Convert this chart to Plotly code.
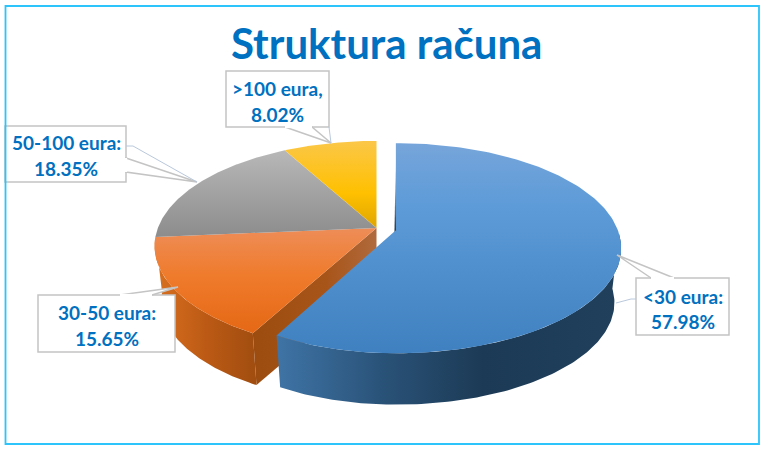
import numpy as np
import plotly.graph_objects as go

categories = ["<30 eura", "30-50 eura", "50-100 eura", ">100 eura"]
values = [57.98, 15.65, 18.35, 8.02]
separators = [":", ":", ":", ","]
title_text = "Struktura računa"
BLUE_TXT = "#0070c0"
FONT = "Lato"

# projection of the tilted disc
CX, CY, R, H, K = 376.5, 228.0, 222.0, 102.0, 0.1714
DEPTH, BOTTOM_SCALE = 55.0, 0.97
PULL = [20.0, 0, 0, 0]
LEFT_SCALE = [0.95, 0.985, 0.985, 0.985]


def proj(theta_deg, r=1.0, bottom=False, dx=0.0, dy=0.0, ls=1.0):
    t = np.radians(np.asarray(theta_deg, dtype=float))
    u, v = r * np.sin(t), r * np.cos(t)
    s = 1.0 / (1.0 + K * v)
    f = BOTTOM_SCALE if bottom else 1.0
    uu = np.where(u < 0, u * ls, u)
    return (CX + dx + R * f * uu * s,
            CY + dy + (DEPTH if bottom else 0.0) - H * f * v * s)


cum = np.concatenate([[0.0], np.cumsum(values)]) / np.sum(values) * 360.0
spans = list(zip(cum[:-1], cum[1:]))
offs = []
for (a, b), p in zip(spans, PULL):
    m = np.radians((a + b) / 2)
    offs.append((p * np.sin(m), -p * np.cos(m) * 0.45))

fig = go.Figure()


def poly(xs, ys, gtype, stops):
    xs, ys = np.asarray(xs, dtype=float), np.asarray(ys, dtype=float)
    if gtype == "vertical":
        grad = dict(type=gtype, colorscale=stops, start=float(ys.min()), stop=float(ys.max()))
    else:
        grad = dict(type=gtype, colorscale=stops, start=float(xs.min()), stop=float(xs.max()))
    fig.add_trace(go.Scatter(x=xs.tolist(), y=ys.tolist(), mode="lines", fill="toself",
                             line=dict(width=0, color="rgba(0,0,0,0)"),
                             fillgradient=grad, hoverinfo="skip", showlegend=False))


def top_face(i, stops):
    a, b = spans[i]
    th = np.linspace(a, b, 160)
    x, y = proj(th, dx=offs[i][0], dy=offs[i][1], ls=LEFT_SCALE[i])
    x0, y0 = proj(0.0, r=0.0, dx=offs[i][0], dy=offs[i][1])
    poly(np.r_[x0, x, x0], np.r_[y0, y, y0], "vertical", stops)


def outer_side(i, a, b, stops):
    th = np.linspace(a, b, 120)
    xt, yt = proj(th, dx=offs[i][0], dy=offs[i][1], ls=LEFT_SCALE[i])
    xb, yb = proj(th, bottom=True, dx=offs[i][0], dy=offs[i][1], ls=LEFT_SCALE[i])
    poly(np.r_[xt, xb[::-1]], np.r_[yt, yb[::-1]], "horizontal", stops)


ORANGE_SIDE = [[0, "#d9701f"], [0.5, "#bc5a15"], [1, "#a04d10"]]
ORANGE_CUT = [[0, "#9c4c0f"], [0.6, "#a8551a"], [1, "#b06a3c"]]
BLUE_SIDE = [[0, "#3f74a6"], [0.3, "#2a5379"], [0.6, "#1c3a55"], [1, "#20405c"]]
BLUE_TOP = [[0, "#76a5da"], [0.3, "#5d9bd8"], [1, "#3f80c0"]]
ORANGE_TOP = [[0, "#ee8d58"], [0.45, "#ef7b2c"], [1, "#e56815"]]
GREY_TOP = [[0, "#b8b8b8"], [1, "#8c8c8c"]]
YELLOW_TOP = [[0, "#fbc748"], [0.6, "#ffc000"], [1, "#dfa600"]]

# orange faces
a_o = spans[1][0]
xa, ya = proj(a_o, ls=LEFT_SCALE[1])
xb, yb = proj(a_o, bottom=True, ls=LEFT_SCALE[1])
xc, yc = proj(0.0, r=0.0)
xd, yd = proj(0.0, r=0.0, bottom=True)
poly([xa, xc, xd, xb], [ya, yc, yd, yb], "horizontal", ORANGE_CUT)
outer_side(1, spans[1][0], spans[1][1], ORANGE_SIDE)
top_face(1, ORANGE_TOP)
top_face(2, GREY_TOP)
top_face(3, YELLOW_TOP)

# blue faces
ax, ay = proj(0.0, dx=offs[0][0], dy=offs[0][1])
cx0, cy0 = proj(0.0, r=0.0, dx=offs[0][0], dy=offs[0][1])
poly([ax - 0.2, cx0 + 0.2, cx0 - 1.4], [ay + 20, cy0 + 2, cy0 + 2], "vertical",
     [[0, "#c8d2dc"], [0.6, "#5a6a7a"], [1, "#1a2a3a"]])
outer_side(0, 92.0, spans[0][1], BLUE_SIDE)
top_face(0, BLUE_TOP)

# callouts: box, wedge, thin leader, label lines
GREY = "#c4c4c4"
LEAD = "#b9c8dc"
boxes = [
    dict(box=(636, 278, 729, 335), wedge=[(651, 278), (617, 255), (674, 278)],
         lead=[(636, 299), (631, 299), (616, 303)], tx=682.5, ty=(296, 321)),
    dict(box=(38, 295, 175, 352), wedge=[(120, 295), (178, 287), (152, 295)],
         lead=None, tx=107, ty=(312, 338)),
    dict(box=(5, 126, 126, 182), wedge=[(126, 158), (197, 182), (126, 172)],
         lead=[(126, 146), (133, 146), (197, 182)], tx=66, ty=(142, 168)),
    dict(box=(226, 71, 329, 127), wedge=[(285, 127), (331, 143), (312, 127)],
         lead=[(329, 127), (331, 143)], tx=277.5, ty=(88, 114)),
]
shapes = []
ann = []
for c, v, sep, b in zip(categories, values, separators, boxes):
    x0, y0, x1, y1 = b["box"]
    shapes.append(dict(type="rect", x0=x0, y0=y0, x1=x1, y1=y1, fillcolor="white",
                       line=dict(color=GREY, width=1.5), layer="above"))
    w = b["wedge"]
    shapes.append(dict(type="path",
                       path=f"M{w[0][0]},{w[0][1]} L{w[1][0]},{w[1][1]} L{w[2][0]},{w[2][1]} Z",
                       fillcolor="white", line=dict(color=GREY, width=1.5), layer="above"))
    # hide the box edge inside the wedge opening
    shapes.append(dict(type="line", x0=w[0][0], y0=w[0][1], x1=w[2][0], y1=w[2][1],
                       line=dict(color="white", width=2.2), layer="above"))
    if b["lead"]:
        p = b["lead"]
        shapes.append(dict(type="path",
                           path="M" + " L".join(f"{px},{py}" for px, py in p),
                           line=dict(color=LEAD, width=1), layer="above"))
    for txt, yy in zip((c.replace("<", "&lt;") + sep, f"{v:.2f}%"), b["ty"]):
        ann.append(dict(x=b["tx"], y=yy, xref="x", yref="y", text=txt, showarrow=False,
                        xanchor="center", yanchor="middle",
                        font=dict(family=FONT, size=19, color=BLUE_TXT, weight="bold")))

# frame
shapes.append(dict(type="rect", x0=5.5, y0=6, x1=759, y1=444, fillcolor="rgba(0,0,0,0)",
                   line=dict(color="#2cc4fb", width=1.8), layer="above"))
ann.append(dict(x=386, y=43, xref="x", yref="y", text=title_text, showarrow=False,
                xanchor="center", yanchor="middle",
                font=dict(family="Lato", size=42, color=BLUE_TXT, weight="bold")))

fig.update_layout(
    width=768, height=453, autosize=False,
    margin=dict(l=0, r=0, t=0, b=0),
    paper_bgcolor="white", plot_bgcolor="white",
    xaxis=dict(range=[0, 768], visible=False, fixedrange=True),
    yaxis=dict(range=[453, 0], visible=False, fixedrange=True),
    shapes=shapes, annotations=ann, showlegend=False,
)
fig.write_html("out.html", config={"displayModeBar": False},
               post_script="document.body.style.margin='0';document.documentElement.style.overflow='hidden';")
